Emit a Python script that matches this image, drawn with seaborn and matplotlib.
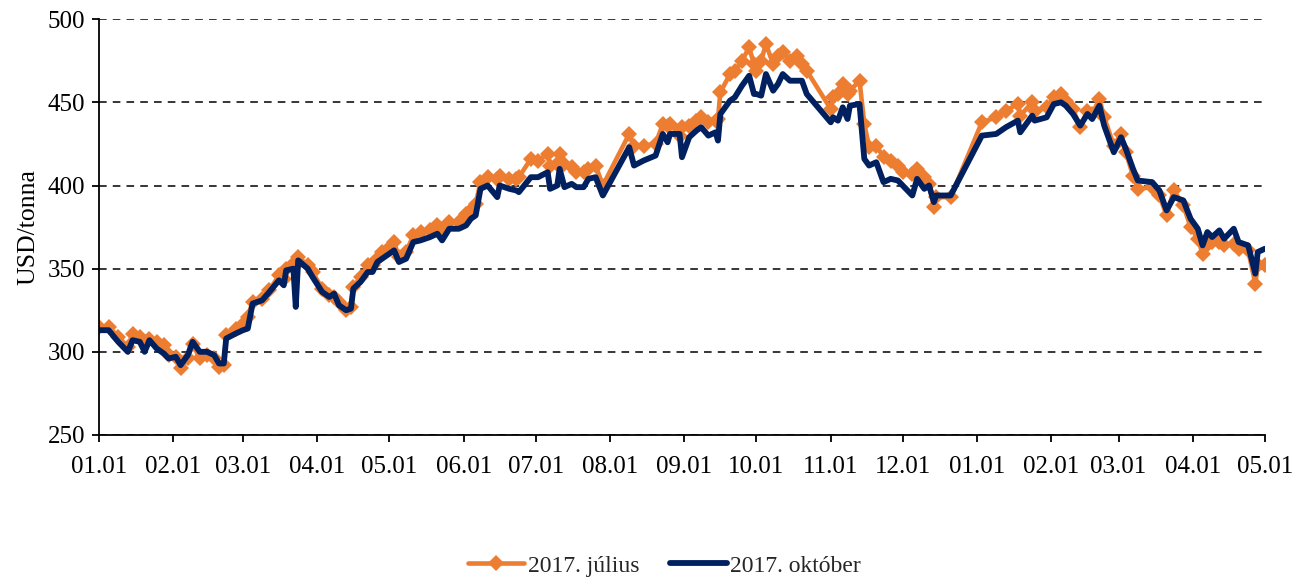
import pandas as pd
import numpy as np
import matplotlib
matplotlib.use("Agg")
import matplotlib.pyplot as plt
import matplotlib.dates as mdates
import seaborn as sns

# dates of the sampled quotes
dates = [
    "2016-01-01", "2016-01-05", "2016-01-09", "2016-01-13", "2016-01-15", "2016-01-18",
    "2016-01-20", "2016-01-22", "2016-01-25", "2016-01-28", "2016-01-30", "2016-02-02",
    "2016-02-04", "2016-02-07", "2016-02-09", "2016-02-12", "2016-02-15", "2016-02-18",
    "2016-02-20", "2016-02-22", "2016-02-23", "2016-02-27", "2016-03-01", "2016-03-03",
    "2016-03-05", "2016-03-09", "2016-03-12", "2016-03-16", "2016-03-18", "2016-03-19",
    "2016-03-22", "2016-03-23", "2016-03-24", "2016-03-28", "2016-03-30", "2016-04-03",
    "2016-04-06", "2016-04-08", "2016-04-10", "2016-04-13", "2016-04-15", "2016-04-16",
    "2016-04-19", "2016-04-22", "2016-04-24", "2016-04-26", "2016-04-28", "2016-04-30",
    "2016-05-03", "2016-05-05", "2016-05-08", "2016-05-11", "2016-05-14", "2016-05-18",
    "2016-05-21", "2016-05-23", "2016-05-26", "2016-05-30", "2016-06-02", "2016-06-04",
    "2016-06-06", "2016-06-08", "2016-06-11", "2016-06-15", "2016-06-16", "2016-06-20",
    "2016-06-23", "2016-06-24", "2016-06-29", "2016-07-02", "2016-07-06", "2016-07-07",
    "2016-07-10", "2016-07-11", "2016-07-13", "2016-07-16", "2016-07-18", "2016-07-21",
    "2016-07-23", "2016-07-26", "2016-07-29", "2016-08-09", "2016-08-11", "2016-08-15",
    "2016-08-20", "2016-08-23", "2016-08-25", "2016-08-26", "2016-08-30", "2016-08-31",
    "2016-09-03", "2016-09-06", "2016-09-08", "2016-09-11", "2016-09-14", "2016-09-15",
    "2016-09-16", "2016-09-20", "2016-09-22", "2016-09-25", "2016-09-28", "2016-09-30",
    "2016-10-01", "2016-10-03", "2016-10-05", "2016-10-08", "2016-10-10", "2016-10-12",
    "2016-10-15", "2016-10-18", "2016-10-20", "2016-10-22", "2016-11-01", "2016-11-02",
    "2016-11-04", "2016-11-06", "2016-11-08", "2016-11-09", "2016-11-13", "2016-11-15",
    "2016-11-17", "2016-11-20", "2016-11-23", "2016-11-26", "2016-11-29", "2016-12-01",
    "2016-12-05", "2016-12-07", "2016-12-10", "2016-12-12", "2016-12-14", "2016-12-15",
    "2016-12-21", "2017-01-03", "2017-01-09", "2017-01-13", "2017-01-18", "2017-01-19",
    "2017-01-24", "2017-01-25", "2017-01-30", "2017-02-02", "2017-02-05", "2017-02-07",
    "2017-02-10", "2017-02-13", "2017-02-16", "2017-02-18", "2017-02-21", "2017-02-23",
    "2017-02-27", "2017-03-02", "2017-03-04", "2017-03-07", "2017-03-09", "2017-03-15",
    "2017-03-18", "2017-03-21", "2017-03-24", "2017-03-28", "2017-03-31", "2017-04-03",
    "2017-04-05", "2017-04-07", "2017-04-09", "2017-04-12", "2017-04-14", "2017-04-18",
    "2017-04-20", "2017-04-24", "2017-04-27", "2017-04-28", "2017-05-01",
]

# 2017. július contract, USD/tonna
july = [
    315, 315, 309, 303, 311, 309, 306, 308, 306, 304, 298, 297,
    290, 296, 305, 296, 298, 296, 291, 292, 310, 314, 317, 321,
    330, 332, 337, 346, 344, 350, 353, 352, 357, 352, 348, 338,
    334, 333, 330, 325, 327, 339, 345, 352, 352, 356, 360, 361,
    366, 357, 360, 370, 372, 373, 376, 372, 378, 378, 383, 385,
    389, 402, 405, 404, 406, 404, 404, 405, 416, 415, 419, 412,
    413, 419, 413, 411, 408, 408, 410, 412, 400, 431, 424, 424,
    425, 437, 436, 437, 430, 435, 436, 439, 441, 438, 439, 440,
    456, 467, 469, 475, 483, 473, 469, 475, 485, 473, 478, 480,
    475, 478, 473, 469, 446, 453, 455, 461, 455, 457, 463, 437,
    423, 424, 417, 415, 412, 408, 407, 410, 405, 401, 387, 393,
    393, 438, 441, 445, 449, 442, 450, 445, 447, 453, 455, 451,
    446, 435, 445, 443, 452, 441, 424, 431, 420, 406, 398, 399,
    394, 382, 397, 388, 375, 368, 359, 364, 366, 366, 364, 365,
    362, 361, 341, 352, 352,
]

# 2017. október contract, USD/tonna
october = [
    313, 313, 306, 300, 307, 306, 300, 307, 302, 299, 296, 297,
    292, 298, 306, 300, 300, 298, 293, 293, 308, 311, 313, 314,
    329, 331, 336, 343, 340, 349, 350, 327, 355, 350, 345, 336,
    333, 335, 328, 325, 326, 338, 342, 348, 348, 354, 356, 358,
    361, 354, 356, 366, 367, 369, 371, 367, 374, 374, 376, 380,
    382, 398, 400, 393, 400, 398, 397, 396, 405, 405, 408, 398,
    400, 410, 399, 401, 399, 399, 404, 405, 394, 423, 412, 415,
    418, 431, 426, 431, 431, 417, 429, 433, 435, 430, 432, 427,
    443, 451, 453, 460, 466, 455, 455, 454, 467, 457, 461, 467,
    463, 463, 463, 455, 438, 441, 439, 447, 440, 448, 449, 416,
    412, 414, 402, 404, 403, 400, 394, 404, 398, 400, 390, 394,
    394, 430, 431, 435, 439, 432, 442, 439, 441, 449, 450, 448,
    443, 436, 443, 440, 448, 436, 420, 429, 422, 410, 403, 402,
    397, 385, 393, 391, 380, 374, 364, 372, 369, 373, 368, 374,
    366, 364, 347, 360, 362,
]

df = pd.DataFrame({
    "date": pd.to_datetime(dates),
    "2017. július": july,
    "2017. október": october,
})

sns.set_theme(style="white")
plt.rcParams["font.family"] = ["Liberation Serif", "DejaVu Serif"]

fig, ax = plt.subplots(figsize=(12.93, 5.81), dpi=100)
fig.subplots_adjust(left=0.0766, right=0.9783, top=0.967, bottom=0.2513)

sns.lineplot(data=df, x="date", y="2017. július", ax=ax, color="#ED7D31",
             linewidth=3.3, marker="D", markersize=8, markeredgewidth=0,
             label="2017. július")
sns.lineplot(data=df, x="date", y="2017. október", ax=ax, color="#002060",
             linewidth=4.2, label="2017. október")

ax.set_ylim(250, 500)
ax.set_yticks([250, 300, 350, 400, 450, 500])
ax.set_xlim(pd.Timestamp("2016-01-01"), pd.Timestamp("2017-05-01"))
ax.xaxis.set_major_locator(mdates.MonthLocator())
ax.xaxis.set_major_formatter(mdates.DateFormatter("%m.%d"))

ax.grid(axis="y", color="black", linestyle=(0, (5, 4)), linewidth=1.1)
ax.set_axisbelow(True)
for s in ["top", "right"]:
    ax.spines[s].set_visible(False)
for s in ["left", "bottom"]:
    ax.spines[s].set_color("black")
    ax.spines[s].set_linewidth(1.3)
ax.tick_params(axis="both", direction="out", length=5, width=1.3,
               color="black", labelsize=18, labelcolor="black",
               bottom=True, left=True)
ax.tick_params(axis="x", pad=10)
ax.tick_params(axis="y", pad=5)
ax.set_xlabel("")
ax.set_ylabel("USD/tonna", fontsize=18.5, color="black", labelpad=6)

ax.legend(loc="center", bbox_to_anchor=(0.485, -0.315), ncol=2, frameon=False,
          fontsize=17, handlelength=2.4, handletextpad=0.15, columnspacing=1.3)

fig.savefig("out.png", dpi=100)
